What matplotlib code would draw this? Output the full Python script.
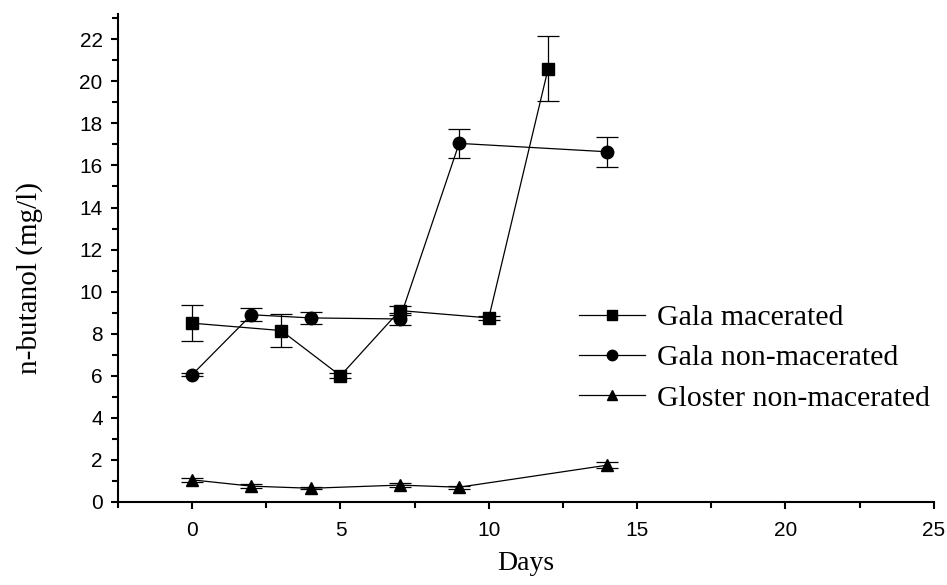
import numpy as np
import matplotlib
matplotlib.use("Agg")
from matplotlib import pyplot as plt
from matplotlib.ticker import MultipleLocator
from matplotlib.lines import Line2D

# Data
days_mac = [0, 3, 5, 7, 10, 12]
gala_mac = [8.5, 8.15, 6.0, 9.1, 8.75, 20.6]
gala_mac_err = [0.85, 0.8, 0.12, 0.2, 0.1, 1.55]

days_nonmac = [0, 2, 4, 7, 9, 14]
gala_nonmac = [6.05, 8.9, 8.75, 8.7, 17.05, 16.65]
gala_nonmac_err = [0.08, 0.3, 0.3, 0.3, 0.7, 0.7]

days_gloster = [0, 2, 4, 7, 9, 14]
gloster = [1.05, 0.75, 0.65, 0.8, 0.7, 1.75]
gloster_err = [0.08, 0.08, 0.05, 0.08, 0.08, 0.15]

serif = "Liberation Serif"
sans = "Liberation Sans"

fig = plt.figure(figsize=(9.47, 5.85), dpi=100)
ax = fig.add_axes([0.1246, 0.142, 0.8614, 0.834])

series = [
    (days_mac, gala_mac, gala_mac_err, "s", 8, "Gala macerated"),
    (days_nonmac, gala_nonmac, gala_nonmac_err, "o", 9, "Gala non-macerated"),
    (days_gloster, gloster, gloster_err, "^", 9, "Gloster non-macerated"),
]
handles = []
for x, y, e, m, ms, lab in series:
    ax.errorbar(x, y, yerr=e, color="black", marker=m, markersize=ms,
                linewidth=0.9, elinewidth=0.9, capsize=8, capthick=0.9)
    handles.append(Line2D([], [], color="black", marker=m, markersize=ms - 1.5,
                          linewidth=0.9, label=lab))

ax.set_xlim(-2.5, 25)
ax.set_ylim(0, 23.2)
ax.xaxis.set_major_locator(MultipleLocator(5))
ax.xaxis.set_minor_locator(MultipleLocator(2.5))
ax.yaxis.set_major_locator(MultipleLocator(2))
ax.yaxis.set_minor_locator(MultipleLocator(1))

for s in ["top", "right"]:
    ax.spines[s].set_visible(False)
for s in ["left", "bottom"]:
    ax.spines[s].set_linewidth(1.5)

ax.tick_params(which="major", direction="out", length=5, width=1.5, labelsize=15)
ax.tick_params(which="minor", direction="out", length=4, width=1.5)
for lbl in ax.get_xticklabels() + ax.get_yticklabels():
    lbl.set_fontfamily(sans)
ax.tick_params(axis="x", pad=9)
ax.tick_params(axis="y", pad=6)

ax.set_xlabel("Days", fontfamily=serif, fontsize=20, labelpad=8)
ax.set_ylabel("n-butanol (mg/l)", fontfamily=serif, fontsize=21, labelpad=26)
ax.yaxis.set_label_coords(-0.092, 0.459)

ax.legend(handles=handles, loc="center left", bbox_to_anchor=(0.583, 0.388),
          bbox_transform=fig.transFigure, frameon=False,
          prop={"family": serif, "size": 21.5}, handlelength=2.2,
          handletextpad=0.4, labelspacing=0.45, borderpad=0.4)

fig.savefig("out.png", dpi=100)
